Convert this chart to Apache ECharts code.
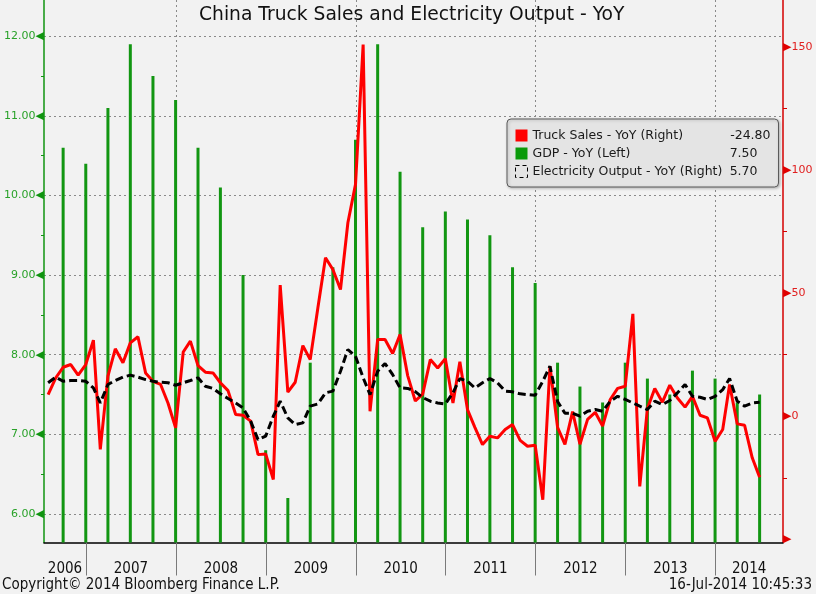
<!DOCTYPE html>
<html><head><meta charset="utf-8">
<script src="https://cdn.jsdelivr.net/npm/echarts@6/dist/echarts.min.js"></script>
<style>html,body{margin:0;padding:0;background:#f2f2f2}#c{width:816px;height:594px}</style>
</head><body><div id="c"></div>
<script>
// ---- data (monthly YoY %, month-end) ----
const truckStart = [2006, 7];
const truckSales = [
  8.8, 15.6, 19.9, 21.0, 16.7, 21.0,
  30.9, -13.5, 16.3, 27.4, 21.7, 29.8, 32.3, 17.6, 14.2, 12.9, 5.4, -4.7,
  26.1, 30.5, 20.6, 17.9, 17.6, 13.6, 10.4, 0.7, 0.4, -2.0, -15.6, -15.3,
  -25.7, 53.3, 9.8, 13.8, 28.7, 23.0, 44.0, 64.4, 59.6, 51.5, 78.6, 94.2,
  151.0, 2.0, 31.2, 31.2, 25.5, 33.2, 16.5, 6.2, 9.0, 23.0, 19.6, 23.4,
  5.4, 22.1, 2.7, -4.5, -11.5, -8.1, -8.8, -5.4, -3.4, -9.8, -12.2, -11.8,
  -33.9, 20.3, -4.5, -11.4, 1.9, -11.4, -1.3, 1.6, -4.0, 6.8, 11.3, 12.2,
  41.6, -28.5, 3.1, 11.3, 5.7, 12.6, 7.4, 3.7, 8.1, 0.4, -0.7, -10.2,
  -5.4, 12.9, -3.1, -3.7, -16.9, -24.8
];
const elecStart = [2006, 7];
const electricity = [
  13.6, 15.9, 14.2, 14.5, 14.5, 14.2,
  11.5, 5.4, 12.9, 14.5, 15.9, 16.7, 15.9, 14.9, 14.2, 13.8, 13.6, 12.6,
  13.6, 14.5, 15.6, 12.2, 11.3, 9.1, 7.2, 5.4, 3.4, -2.0, -9.5, -8.1,
  0.0, 6.1, -0.7, -3.4, -2.7, 4.1, 5.0, 9.5, 10.2, 18.3, 27.1, 24.4,
  15.6, 8.8, 18.3, 21.4, 16.9, 11.5, 11.3, 10.0, 7.6, 6.1, 5.4, 5.0,
  9.5, 15.3, 14.2, 11.5, 13.6, 15.3, 13.6, 10.2, 9.9, 9.1, 8.8, 8.5,
  14.2, 20.3, 6.0, 1.2, 1.2, 0.0, 2.0, 2.7, 2.0, 6.1, 8.1, 6.8,
  5.4, 4.1, 2.7, 6.1, 4.7, 6.4, 9.5, 12.9, 8.1, 7.7, 6.8, 8.1,
  10.8, 15.3, 6.1, 4.1, 5.4, 5.7
];
// quarterly GDP YoY %, plotted at quarter end
const gdpStart = [2006, 9];
const gdp = [
  10.6, 10.4,
  11.1, 11.9, 11.5, 11.2,
  10.6, 10.1, 9.0, 6.8,
  6.2, 7.9, 9.1, 10.7,
  11.9, 10.3, 9.6, 9.8,
  9.7, 9.5, 9.1, 8.9,
  7.9, 7.6, 7.4, 7.9,
  7.7, 7.5, 7.8, 7.7,
  7.4, 7.5
];
const years = [2006, 2007, 2008, 2009, 2010, 2011, 2012, 2013, 2014];
const gridYears = [2008, 2010, 2012, 2014];
const leftTicks = [6, 7, 8, 9, 10, 11, 12];
const leftMinor = [6.5, 7.5, 8.5, 9.5, 10.5, 11.5];
const rightTicks = [-50, 0, 50, 100, 150];
const rightMinor = [-25, 25, 75, 125];

const truckName = 'Truck Sales - YoY (Right)';
const gdpName = 'GDP - YoY (Left)';
const elecName = 'Electricity Output - YoY (Right)';

// ---- helpers ----
function monthEnd(y, m) { return Date.UTC(y, m, 0); }
function toSeries(start, step, values) {
  return values.map(function (v, i) {
    const total = start[1] - 1 + i * step;
    const y = start[0] + Math.floor(total / 12);
    const m = total % 12 + 1;
    return [monthEnd(y, m), v];
  });
}
const xMin = Date.UTC(2006, 6, 14, 6);
const xMax = Date.UTC(2014, 9, 3);
const yearStarts = years.slice(1).map(function (y) { return Date.UTC(y, 0, 1); });
const gridStarts = gridYears.map(function (y) { return Date.UTC(y, 0, 1); });
const yearCenters = years.map(function (y) {
  const a = Math.max(Date.UTC(y, 0, 1), xMin);
  const b = Math.min(Date.UTC(y + 1, 0, 1), xMax);
  return (a + b) / 2;
});
function yearOf(v) {
  let best = 0, d = Infinity;
  yearCenters.forEach(function (c, i) { if (Math.abs(c - v) < d) { d = Math.abs(c - v); best = i; } });
  return String(years[best]);
}
const lastVal = {};
lastVal[truckName] = truckSales[truckSales.length - 1].toFixed(2);
lastVal[gdpName] = gdp[gdp.length - 1].toFixed(2);
lastVal[elecName] = electricity[electricity.length - 1].toFixed(2);

const GREEN = '#109410';
const FONT = 'DejaVu Sans';
const NARROW = '"Liberation Sans Narrow", "DejaVu Sans Condensed", sans-serif';
const LFS = 12.5;

const chart = echarts.init(document.getElementById('c'));
chart.setOption({
  animation: false,
  backgroundColor: '#f2f2f2',
  title: [
    { text: 'China Truck Sales and Electricity Output - YoY', left: 199, top: 6, padding: 0,
      textStyle: { fontFamily: FONT, fontSize: 18.7, fontWeight: 'normal', color: '#111' } },
    { text: 'Copyright\u00a9 2014 Bloomberg Finance L.P.', left: 2, top: 578, padding: 0,
      textStyle: { fontFamily: NARROW, fontSize: 15, fontWeight: 'normal', color: '#111' } },
    { text: '16-Jul-2014 10:45:33', right: 4, top: 578, padding: 0,
      textStyle: { fontFamily: NARROW, fontSize: 15, fontWeight: 'normal', color: '#111' } }
  ],
  legend: {
    orient: 'vertical', left: 507, top: 119,
    padding: [10, 8, 9, 8], itemGap: 5, itemWidth: 12, itemHeight: 12,
    backgroundColor: '#e4e4e4', borderColor: '#5a5a5a', borderWidth: 1, borderRadius: 4,
    shadowColor: 'rgba(0,0,0,0.25)', shadowBlur: 3, shadowOffsetX: 1, shadowOffsetY: 1,
    selectedMode: false,
    data: [
      { name: truckName, icon: 'rect', itemStyle: { color: '#ff0000', borderWidth: 0 } },
      { name: gdpName, icon: 'rect', itemStyle: { color: '#0a9a0a', borderWidth: 0 } },
      { name: elecName, icon: 'rect', itemStyle: { color: 'rgba(0,0,0,0)', borderColor: '#000', borderWidth: 1, borderType: [4, 3] } }
    ],
    formatter: function (name) {
      const vs = name === truckName ? 'v1' : 'v2';
      return '{n|' + name + '}{' + vs + '|' + lastVal[name] + '}';
    },
    textStyle: {
      fontFamily: FONT, fontSize: LFS, color: '#1a1a1a', lineHeight: 12,
      rich: {
        n: { width: 192, fontFamily: FONT, fontSize: LFS, color: '#1a1a1a', lineHeight: 12 },
        v1: { width: 46, align: 'right', fontFamily: FONT, fontSize: LFS, color: '#1a1a1a', lineHeight: 12 },
        v2: { width: 33, align: 'right', fontFamily: FONT, fontSize: LFS, color: '#1a1a1a', lineHeight: 12 }
      }
    }
  },
  grid: { left: 44, right: 33, top: 0, bottom: 51.5, outerBoundsMode: 'none', containLabel: false },
  xAxis: [
    {
      type: 'value', min: xMin, max: xMax, position: 'bottom',
      axisLine: { show: true, onZero: false, lineStyle: { color: '#000', width: 1.5 } },
      axisTick: { show: true, inside: false, length: 33, customValues: yearStarts, lineStyle: { color: '#7a7a7a', width: 1 } },
      axisLabel: { show: true, customValues: yearCenters, margin: 19, formatter: yearOf,
        fontFamily: NARROW, fontSize: 15, color: '#111' },
      splitLine: { show: false }
    },
    {
      type: 'value', min: xMin, max: xMax, position: 'bottom',
      axisLine: { show: false }, axisLabel: { show: false },
      axisTick: { show: false, customValues: gridStarts },
      splitLine: { show: true, lineStyle: { color: '#8a8a8a', type: [2, 3], width: 1 } }
    }
  ],
  yAxis: [
    {
      type: 'value', position: 'left', min: 5.641, max: 12.456,
      axisLine: { show: true, onZero: false, lineStyle: { color: GREEN, width: 1.5 } },
      axisTick: { show: false, customValues: leftTicks },
      axisLabel: {
        customValues: leftTicks, margin: 0,
        formatter: function (v) { return '{v|' + v.toFixed(2) + '}{a|\u25C0}'; },
        rich: {
          v: { fontFamily: FONT, fontSize: 11, color: '#2aa22a' },
          a: { fontFamily: FONT, fontSize: 11, color: GREEN }
        }
      },
      splitLine: { show: true, lineStyle: { color: '#8a8a8a', type: [2, 3], width: 1 } }
    },
    {
      type: 'value', position: 'right', min: -51.3, max: 169.1,
      axisLine: { show: true, onZero: false, lineStyle: { color: '#d40000', width: 1.5 } },
      axisTick: { show: true, inside: false, length: 4, customValues: rightMinor, lineStyle: { color: '#d40000' } },
      axisLabel: {
        customValues: rightTicks, margin: 0,
        formatter: function (v) { return v === -50 ? '{a|\u25B6}' : '{a|\u25B6}{v|' + v + '}'; },
        rich: {
          v: { fontFamily: FONT, fontSize: 11, color: '#e02020' },
          a: { fontFamily: FONT, fontSize: 11, color: '#e00000' }
        }
      },
      splitLine: { show: false }
    },
    {
      type: 'value', position: 'left', min: 5.641, max: 12.456,
      axisLine: { show: false },
      axisTick: { show: true, inside: false, length: 3, customValues: leftMinor, lineStyle: { color: GREEN } },
      axisLabel: { show: false },
      splitLine: { show: false }
    }
  ],
  series: [
    {
      name: gdpName, type: 'bar', xAxisIndex: 0, yAxisIndex: 0, barWidth: 3,
      itemStyle: { color: '#129612' }, data: toSeries(gdpStart, 3, gdp), z: 2
    },
    {
      name: truckName, type: 'line', xAxisIndex: 0, yAxisIndex: 1, symbol: 'none',
      lineStyle: { color: '#ff0000', width: 3 }, itemStyle: { color: '#ff0000' },
      data: toSeries(truckStart, 1, truckSales), z: 3
    },
    {
      name: elecName, type: 'line', xAxisIndex: 0, yAxisIndex: 1, symbol: 'none',
      lineStyle: { color: '#000', width: 3, type: [8, 4] }, itemStyle: { color: '#000' },
      data: toSeries(elecStart, 1, electricity), z: 4
    }
  ]
});
</script>
</body></html>
